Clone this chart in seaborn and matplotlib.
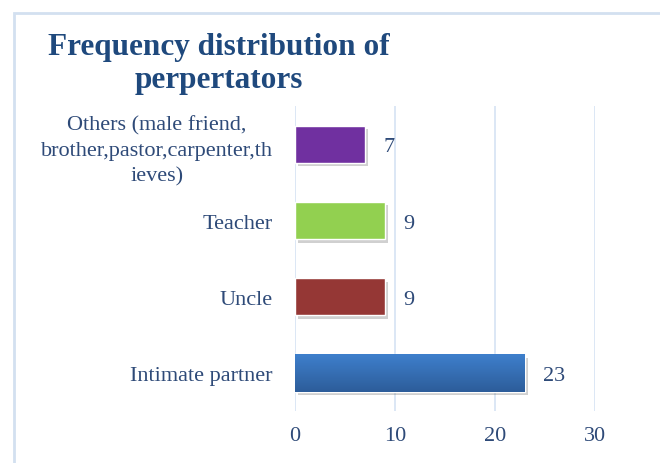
import numpy as np
import pandas as pd
import seaborn as sns
import matplotlib.pyplot as plt
import matplotlib.patheffects as pe
from matplotlib.colors import LinearSegmentedColormap
from matplotlib.patches import Rectangle

# data
categories = ['Others (male friend,\nbrother,pastor,carpenter,th\nieves)',
              'Teacher', 'Uncle', 'Intimate partner']
counts = [7, 9, 9, 23]
bar_colors = ['#7030A0', '#92D050', '#953735', '#3672BE']
x_ticks = [0, 10, 20, 30]

df = pd.DataFrame({'category': categories, 'count': counts})

sns.set_style('white')
plt.rcParams['font.family'] = ['Liberation Serif', 'DejaVu Serif']
text_color = '#2E4A78'

fig = plt.figure(figsize=(6.6, 4.64), dpi=100)
ax = fig.add_axes([0.447, 0.112, 0.4545, 0.657])

sns.barplot(data=df, x='count', y='category', hue='category', palette=bar_colors,
            saturation=1, legend=False, width=0.49, ax=ax, zorder=3)

for bar in ax.patches:
    bar.set_path_effects([pe.SimplePatchShadow(offset=(2, -2.5), alpha=0.25, shadow_rgbFace='#444444'),
                          pe.Normal()])

# gradient on the blue bar
blue = ax.patches[3]
grad = LinearSegmentedColormap.from_list('g', ['#3E7FCC', '#2D5D9A'])
x0, y0 = blue.get_x(), blue.get_y()
img = ax.imshow(np.linspace(0, 1, 50).reshape(-1, 1), cmap=grad, aspect='auto',
                extent=[x0, x0 + blue.get_width(), y0 + blue.get_height(), y0], zorder=3.5)
img.set_clip_path(blue)

for container in ax.containers:
    labels = ax.bar_label(container, padding=13, fontsize=16, color=text_color)
    for t in labels:
        t.set_va('center_baseline')

ax.set_xlim(0, 30)
ax.set_xticks(x_ticks)
ax.set_ylim(3.5, -0.5)
ax.grid(axis='x', color='#D6E3F3', linewidth=1.2, zorder=0)
ax.set_axisbelow(True)
for s in ax.spines.values():
    s.set_visible(False)
ax.set_xlabel('')
ax.set_ylabel('')
ax.tick_params(axis='x', labelsize=16, labelcolor=text_color, length=0, pad=11)
ax.tick_params(axis='y', labelsize=16, labelcolor=text_color, length=0, pad=16)
for lbl in ax.get_yticklabels():
    lbl.set_multialignment('center')
    lbl.set_linespacing(1.45)

fig.text(0.332, 0.862, 'Frequency distribution of\nperpertators', ha='center', va='center',
         fontsize=22.5, fontweight='bold', color='#1F497D', linespacing=1.2)

fig.patches.append(Rectangle((14 / 660, -0.1), 1.2, 1 - 14 / 464 + 0.1,
                             transform=fig.transFigure, fill=False,
                             edgecolor='#D3E0F0', linewidth=2))

fig.savefig('out.png', dpi=100)
